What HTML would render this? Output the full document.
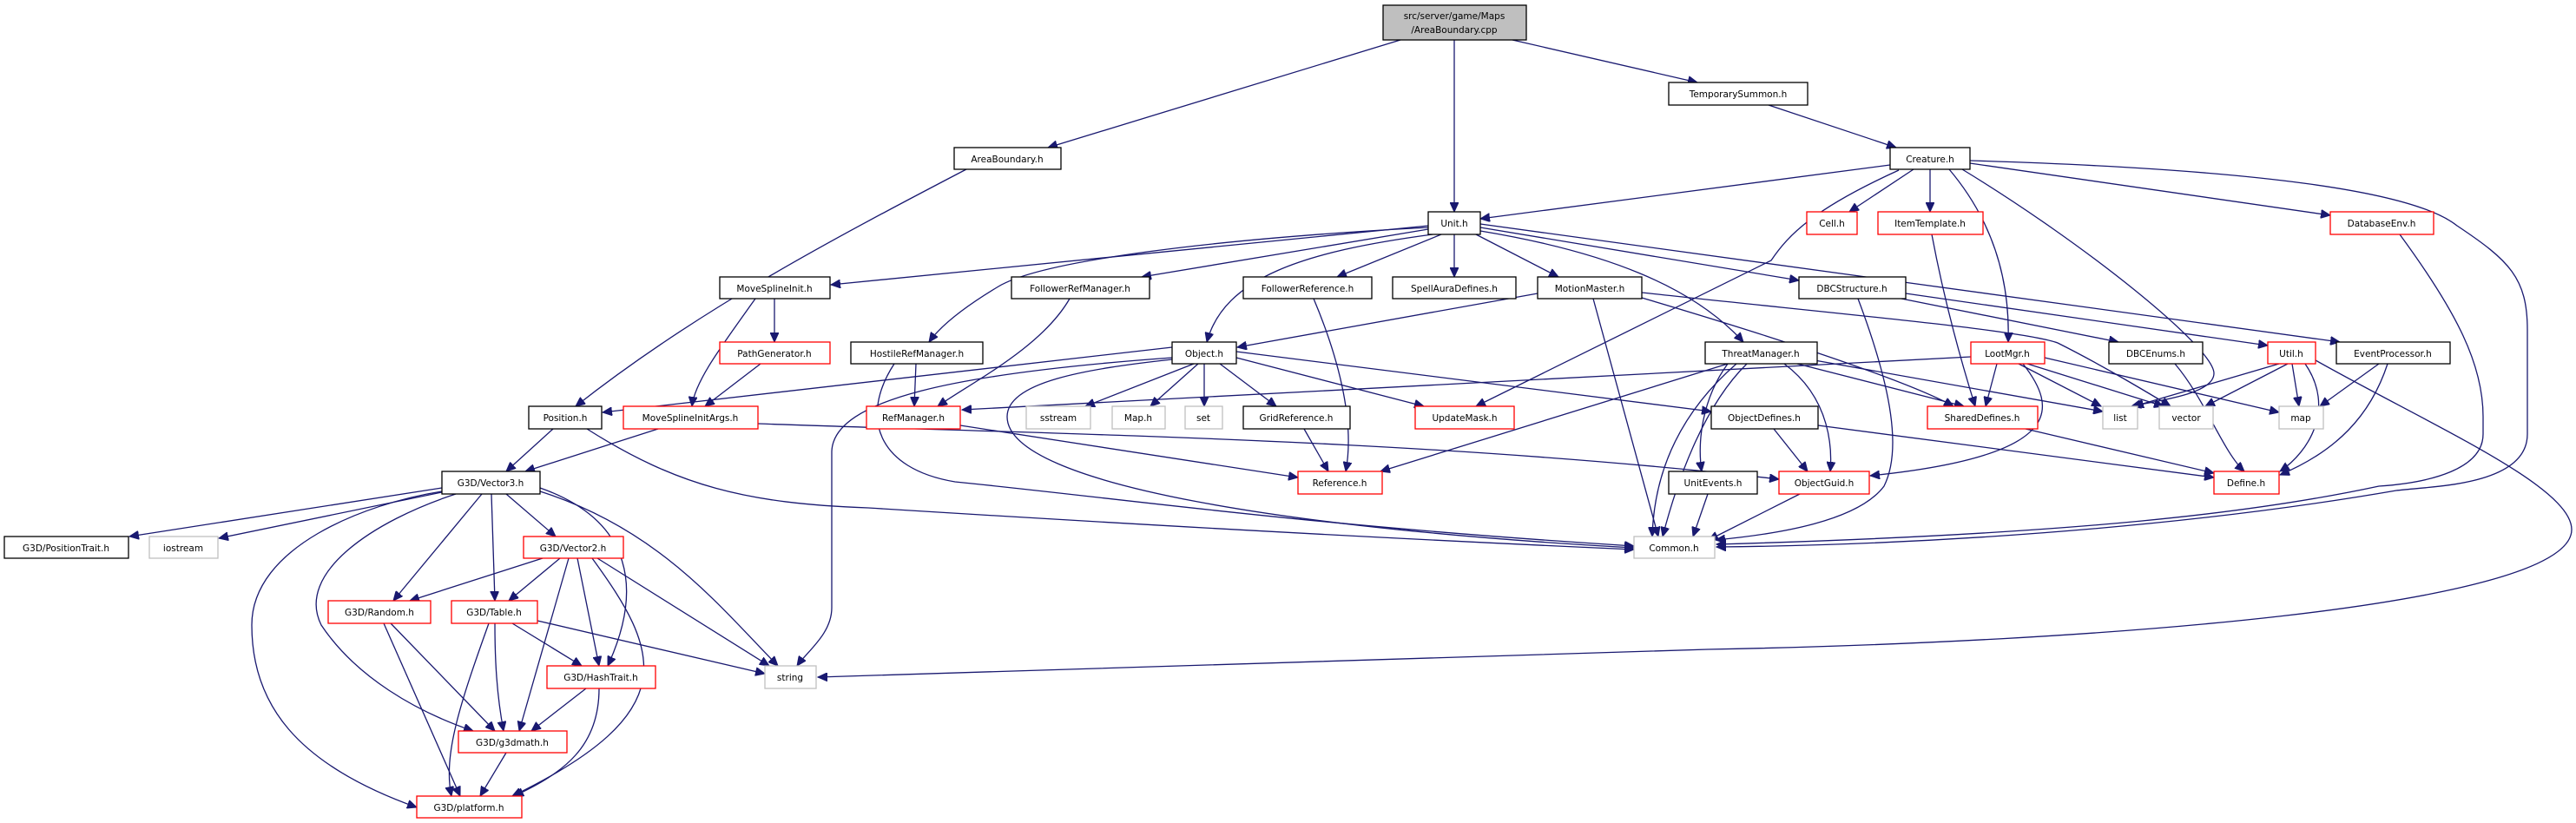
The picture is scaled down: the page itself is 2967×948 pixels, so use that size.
<!DOCTYPE html>
<html><head><meta charset="utf-8"><style>
html,body{margin:0;padding:0;background:#fff;width:2967px;height:948px;overflow:hidden}
svg{display:block}
text{font-family:"DejaVu Sans","Liberation Sans",sans-serif;font-size:10.5px;fill:#000;text-anchor:middle}
.e{fill:none;stroke:#191970;stroke-width:1.3;marker-end:url(#a)}
.b{fill:#fff;stroke:#000;stroke-width:1.3}
.r{fill:#fff;stroke:#ff0000;stroke-width:1.3}
.g{fill:#fff;stroke:#bfbfbf;stroke-width:1.3}
</style></head><body>
<svg width="2967" height="948" viewBox="0 0 2967 948" xmlns="http://www.w3.org/2000/svg">
<defs><marker id="a" markerUnits="userSpaceOnUse" markerWidth="12" markerHeight="10" refX="11" refY="5" orient="auto"><path d="M0,0 L11,5 L0,10 Z" fill="#191970" stroke="#191970"/></marker></defs>
<g>
<path class="e" d="M1613,46 L1207,170"/>
<path class="e" d="M1675,46 L1675,244"/>
<path class="e" d="M1742,46 L1955,95"/>
<path class="e" d="M2037,121 L2184,170"/>
<path class="e" d="M1113,195 C950,280 800,360 663,468"/>
<path class="e" d="M2177,190 L1705,252"/>
<path class="e" d="M2187,196 C2090,240 2060,270 2040,300 L1700,468"/>
<path class="e" d="M2204,195 L2130,244"/>
<path class="e" d="M2223,195 L2223,244"/>
<path class="e" d="M2245,195 C2300,260 2315,330 2313,394"/>
<path class="e" d="M2260,195 C2400,280 2550,400 2550,430 C2550,455 2480,462 2455,468"/>
<path class="e" d="M2269,188 L2684,248"/>
<path class="e" d="M2269,185 C2600,195 2780,220 2830,260 C2890,300 2911,320 2911,380 L2911,500 C2911,560 2800,560 2760,565 C2500,610 2200,628 1977,630"/>
<path class="e" d="M2764,270 C2830,360 2860,420 2860,480 L2860,500 C2860,540 2800,556 2740,560 C2600,590 2400,615 1977,627"/>
<path class="e" d="M1645,260 L957,328"/>
<path class="e" d="M1645,262 C1400,275 1200,300 1150,330 C1100,360 1080,380 1070,394"/>
<path class="e" d="M1645,264 L1315,319"/>
<path class="e" d="M1650,270 C1500,290 1410,320 1390,394"/>
<path class="e" d="M1660,270 L1540,319"/>
<path class="e" d="M1675,270 L1675,319"/>
<path class="e" d="M1700,270 L1795,319"/>
<path class="e" d="M1705,266 C1850,290 1950,330 2008,394"/>
<path class="e" d="M1705,262 L2072,323"/>
<path class="e" d="M1705,258 L2695,394"/>
<path class="e" d="M1771,338 L1425,400"/>
<path class="e" d="M1835,344 L1910,618"/>
<path class="e" d="M1891,343 C2050,390 2200,440 2250,468"/>
<path class="e" d="M1891,337 C2100,360 2330,380 2370,395 C2420,420 2470,450 2500,468"/>
<path class="e" d="M1232,344 C1200,400 1120,440 1080,468"/>
<path class="e" d="M1513,344 C1545,420 1560,490 1550,543"/>
<path class="e" d="M2140,344 C2180,450 2190,520 2170,560 C2140,600 2050,615 1976,622"/>
<path class="e" d="M2190,344 L2440,394"/>
<path class="e" d="M2195,338 L2612,398"/>
<path class="e" d="M1055,419 L1053,468"/>
<path class="e" d="M1030,419 C990,480 1010,540 1100,555 C1300,575 1500,605 1882,629"/>
<path class="e" d="M1350,400 L694,475"/>
<path class="e" d="M1350,412 C1100,430 960,460 958,520 L958,700 C958,730 930,750 918,767"/>
<path class="e" d="M1350,414 C1250,425 1160,440 1160,480 C1160,560 1500,610 1882,631"/>
<path class="e" d="M1375,419 L1250,468"/>
<path class="e" d="M1380,419 L1325,468"/>
<path class="e" d="M1387,419 L1387,468"/>
<path class="e" d="M1405,419 L1470,468"/>
<path class="e" d="M1424,412 L1640,468"/>
<path class="e" d="M1424,405 L1971,474"/>
<path class="e" d="M1502,494 L1530,543"/>
<path class="e" d="M1106,490 L1495,550"/>
<path class="e" d="M2270,411 L1108,472"/>
<path class="e" d="M1990,419 L1590,543"/>
<path class="e" d="M2070,419 L2262,468"/>
<path class="e" d="M2090,415 L2422,474"/>
<path class="e" d="M2055,419 C2110,460 2110,520 2108,543"/>
<path class="e" d="M1990,419 C1960,460 1955,510 1960,543"/>
<path class="e" d="M2000,419 C1930,480 1905,550 1903,618"/>
<path class="e" d="M2012,419 C1960,470 1930,560 1915,618"/>
<path class="e" d="M2300,419 L2287,468"/>
<path class="e" d="M2325,419 L2420,468"/>
<path class="e" d="M2335,419 L2492,468"/>
<path class="e" d="M2355,412 L2625,475"/>
<path class="e" d="M2330,419 C2370,470 2380,525 2154,548"/>
<path class="e" d="M2225,270 C2240,350 2260,420 2275,468"/>
<path class="e" d="M2505,419 C2540,460 2560,520 2585,543"/>
<path class="e" d="M2625,419 L2458,468"/>
<path class="e" d="M2635,419 L2540,468"/>
<path class="e" d="M2640,419 L2648,468"/>
<path class="e" d="M2655,419 C2690,470 2660,520 2626,543"/>
<path class="e" d="M2667,415 C2800,490 2962,560 2962,610 C2962,700 2400,740 1967,748 C1500,765 1100,777 942,780"/>
<path class="e" d="M2740,419 L2672,468"/>
<path class="e" d="M2750,419 C2730,480 2690,520 2626,547"/>
<path class="e" d="M2043,494 L2082,543"/>
<path class="e" d="M2094,490 L2550,550"/>
<path class="e" d="M2333,494 L2550,545"/>
<path class="e" d="M2073,569 L1968,622"/>
<path class="e" d="M1967,569 L1950,618"/>
<path class="e" d="M637,494 L583,543"/>
<path class="e" d="M676,494 C780,560 860,580 1000,585 C1400,610 1700,625 1882,633"/>
<path class="e" d="M758,494 L605,543"/>
<path class="e" d="M873,488 C1200,500 1640,505 2049,552"/>
<path class="e" d="M892,344 L892,394"/>
<path class="e" d="M870,344 C830,400 800,440 797,468"/>
<path class="e" d="M876,419 L812,468"/>
<path class="e" d="M509,562 L149,618"/>
<path class="e" d="M509,567 L252,620"/>
<path class="e" d="M583,569 L640,618"/>
<path class="e" d="M555,569 L453,692"/>
<path class="e" d="M566,569 L570,692"/>
<path class="e" d="M622,562 C730,600 740,680 700,767"/>
<path class="e" d="M622,566 C760,610 830,700 896,767"/>
<path class="e" d="M525,569 C430,600 340,660 370,720 C410,780 480,820 545,842"/>
<path class="e" d="M509,566 C420,580 290,630 290,720 C290,810 340,880 480,930"/>
<path class="e" d="M625,643 L472,692"/>
<path class="e" d="M645,643 L586,692"/>
<path class="e" d="M665,643 L690,767"/>
<path class="e" d="M655,643 L598,842"/>
<path class="e" d="M682,643 C760,750 790,820 590,917"/>
<path class="e" d="M688,643 L886,767"/>
<path class="e" d="M450,718 L570,842"/>
<path class="e" d="M442,718 L530,917"/>
<path class="e" d="M590,718 L670,767"/>
<path class="e" d="M570,718 C570,760 572,800 580,842"/>
<path class="e" d="M563,718 C530,810 510,870 520,917"/>
<path class="e" d="M619,715 L881,776"/>
<path class="e" d="M675,793 L612,842"/>
<path class="e" d="M690,793 C690,860 650,890 592,917"/>
<path class="e" d="M583,867 L553,917"/>
</g>
<g>
<rect x="1593" y="6" width="165" height="40" fill="#bfbfbf" stroke="#000" stroke-width="1.3"/>
<text x="1675" y="22">src/server/game/Maps</text><text x="1675" y="38">/AreaBoundary.cpp</text>
<rect class="b" x="1922" y="95" width="160" height="26"/><text x="2002" y="112">TemporarySummon.h</text>
<rect class="b" x="1099" y="170" width="123" height="25"/><text x="1160" y="187">AreaBoundary.h</text>
<rect class="b" x="2177" y="170" width="92" height="25"/><text x="2223" y="187">Creature.h</text>
<rect class="b" x="1645" y="244" width="60" height="26"/><text x="1675" y="261">Unit.h</text>
<rect class="r" x="2081" y="244" width="58" height="26"/><text x="2110" y="261">Cell.h</text>
<rect class="r" x="2163" y="244" width="121" height="26"/><text x="2223" y="261">ItemTemplate.h</text>
<rect class="r" x="2684" y="244" width="119" height="26"/><text x="2743" y="261">DatabaseEnv.h</text>
<rect class="b" x="829" y="319" width="127" height="25"/><text x="892" y="336">MoveSplineInit.h</text>
<rect class="b" x="1165" y="319" width="159" height="25"/><text x="1244" y="336">FollowerRefManager.h</text>
<rect class="b" x="1432" y="319" width="148" height="25"/><text x="1506" y="336">FollowerReference.h</text>
<rect class="b" x="1604" y="319" width="142" height="25"/><text x="1675" y="336">SpellAuraDefines.h</text>
<rect class="b" x="1771" y="319" width="120" height="25"/><text x="1831" y="336">MotionMaster.h</text>
<rect class="b" x="2072" y="319" width="123" height="25"/><text x="2133" y="336">DBCStructure.h</text>
<rect class="r" x="829" y="394" width="127" height="25"/><text x="892" y="411">PathGenerator.h</text>
<rect class="b" x="980" y="394" width="152" height="25"/><text x="1056" y="411">HostileRefManager.h</text>
<rect class="b" x="1350" y="394" width="74" height="25"/><text x="1387" y="411">Object.h</text>
<rect class="b" x="1964" y="394" width="129" height="25"/><text x="2028" y="411">ThreatManager.h</text>
<rect class="r" x="2270" y="394" width="85" height="25"/><text x="2312" y="411">LootMgr.h</text>
<rect class="b" x="2429" y="394" width="108" height="25"/><text x="2483" y="411">DBCEnums.h</text>
<rect class="r" x="2612" y="394" width="55" height="25"/><text x="2639" y="411">Util.h</text>
<rect class="b" x="2691" y="394" width="131" height="25"/><text x="2756" y="411">EventProcessor.h</text>
<rect class="b" x="609" y="468" width="84" height="26"/><text x="651" y="485">Position.h</text>
<rect class="r" x="718" y="468" width="155" height="26"/><text x="795" y="485">MoveSplineInitArgs.h</text>
<rect class="r" x="998" y="468" width="108" height="26"/><text x="1052" y="485">RefManager.h</text>
<rect class="g" x="1182" y="468" width="74" height="26"/><text x="1219" y="485">sstream</text>
<rect class="g" x="1281" y="468" width="61" height="26"/><text x="1311" y="485">Map.h</text>
<rect class="g" x="1365" y="468" width="43" height="26"/><text x="1386" y="485">set</text>
<rect class="b" x="1432" y="468" width="123" height="26"/><text x="1493" y="485">GridReference.h</text>
<rect class="r" x="1630" y="468" width="114" height="26"/><text x="1687" y="485">UpdateMask.h</text>
<rect class="b" x="1971" y="468" width="123" height="26"/><text x="2032" y="485">ObjectDefines.h</text>
<rect class="r" x="2220" y="468" width="127" height="26"/><text x="2283" y="485">SharedDefines.h</text>
<rect class="g" x="2422" y="468" width="40" height="26"/><text x="2442" y="485">list</text>
<rect class="g" x="2487" y="468" width="62" height="26"/><text x="2518" y="485">vector</text>
<rect class="g" x="2625" y="468" width="51" height="26"/><text x="2650" y="485">map</text>
<rect class="b" x="509" y="543" width="113" height="26"/><text x="565" y="560">G3D/Vector3.h</text>
<rect class="r" x="1495" y="543" width="97" height="26"/><text x="1543" y="560">Reference.h</text>
<rect class="b" x="1922" y="543" width="102" height="26"/><text x="1973" y="560">UnitEvents.h</text>
<rect class="r" x="2049" y="543" width="104" height="26"/><text x="2101" y="560">ObjectGuid.h</text>
<rect class="r" x="2550" y="543" width="75" height="26"/><text x="2587" y="560">Define.h</text>
<rect class="b" x="5" y="618" width="143" height="25"/><text x="76" y="635">G3D/PositionTrait.h</text>
<rect class="g" x="172" y="618" width="79" height="25"/><text x="211" y="635">iostream</text>
<rect class="r" x="603" y="618" width="115" height="25"/><text x="660" y="635">G3D/Vector2.h</text>
<rect class="g" x="1882" y="618" width="93" height="25"/><text x="1928" y="635">Common.h</text>
<rect class="r" x="378" y="692" width="118" height="26"/><text x="437" y="709">G3D/Random.h</text>
<rect class="r" x="520" y="692" width="99" height="26"/><text x="569" y="709">G3D/Table.h</text>
<rect class="r" x="630" y="767" width="125" height="26"/><text x="692" y="784">G3D/HashTrait.h</text>
<rect class="g" x="881" y="767" width="59" height="26"/><text x="910" y="784">string</text>
<rect class="r" x="528" y="842" width="125" height="25"/><text x="590" y="859">G3D/g3dmath.h</text>
<rect class="r" x="480" y="917" width="121" height="25"/><text x="540" y="934">G3D/platform.h</text>
</g>
</svg>
</body></html>
